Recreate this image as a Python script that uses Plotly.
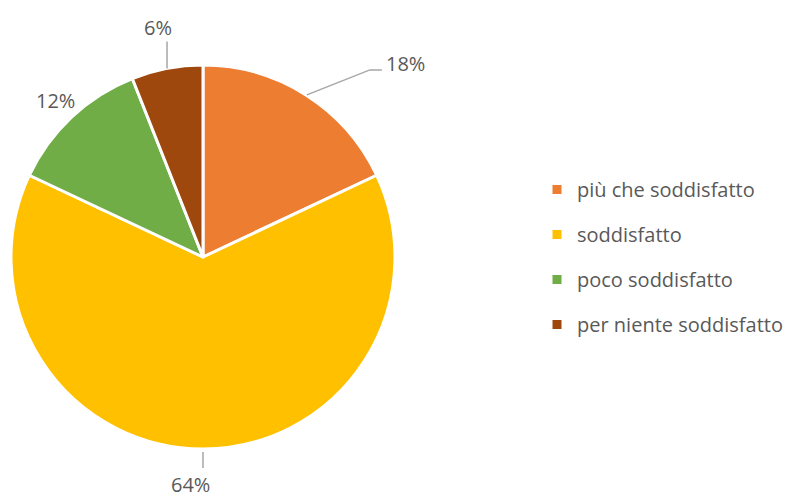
import math
import plotly.graph_objects as go

# ---- data ----
categories = ["più che soddisfatto", "soddisfatto", "poco soddisfatto", "per niente soddisfatto"]
values = [18, 64, 12, 6]
colors = ["#ED7D31", "#FFC000", "#70AD47", "#9E480E"]

# ---- layout / style ----
W, H = 795, 499
CX, CY, R = 203, 257, 192          # pie centre & radius in pixels
FONT = "Open Sans"
TXT = "#595959"
LINE = "#A6A6A6"
# leader line offsets (pixels, relative to slice edge mid-point), and text offsets
leader_paths = [
    [(1, 0), (64, -25), (76, -25)],
    [(0, 3), (0, 19)],
    [],
    [(0, 0), (0, -27)],
]
text_offsets = [(79, -31), (-13, 35), (-16, -17), (-9, -41)]
text_anchor = ["left", "center", "center", "center"]


def px2paper(x, y):
    return x / W, 1 - y / H


fig = go.Figure()
fig.add_trace(go.Pie(
    labels=categories, values=values, sort=False, direction="clockwise", rotation=0,
    marker=dict(colors=colors, line=dict(color="white", width=3)),
    textinfo="none", hoverinfo="label+percent", showlegend=False,
    domain=dict(x=[(CX - R) / W, (CX + R) / W], y=[1 - (CY + R) / H, 1 - (CY - R) / H]),
))

# legend entries via dummy traces so spacing can be controlled
for c, col in zip(categories, colors):
    fig.add_trace(go.Scatter(
        x=[None], y=[None], mode="markers", name=c, legendgroup=c,
        marker=dict(symbol="square", size=9, color=col),
    ))

total = sum(values)
cum = 0
shapes, annotations = [], []
for i, v in enumerate(values):
    mid = (cum + v / 2) / total * 2 * math.pi
    cum += v
    ex = CX + R * math.sin(mid)
    ey = CY - R * math.cos(mid)
    pts = leader_paths[i]
    if pts:
        path = ""
        for k, (dx, dy) in enumerate(pts):
            px, py = px2paper(ex + dx, ey + dy)
            path += ("M" if k == 0 else "L") + f"{px},{py} "
        shapes.append(dict(type="path", path=path.strip(), xref="paper", yref="paper",
                           line=dict(color=LINE, width=1.5)))
    tx, ty = px2paper(ex + text_offsets[i][0], ey + text_offsets[i][1])
    annotations.append(dict(
        x=tx, y=ty, xref="paper", yref="paper", text=f"{round(v / total * 100)}%",
        showarrow=False, xanchor=text_anchor[i], yanchor="middle", borderpad=0,
        font=dict(family=FONT, size=20, color=TXT),
    ))

fig.update_layout(
    width=W, height=H, margin=dict(l=0, r=0, t=0, b=0, autoexpand=False),
    paper_bgcolor="white", plot_bgcolor="white",
    xaxis=dict(visible=False), yaxis=dict(visible=False),
    shapes=shapes, annotations=annotations,
    showlegend=True,
    legend=dict(x=537 / W, y=1 - 170 / H, xanchor="left", yanchor="top",
                font=dict(family=FONT, size=20, color=TXT),
                tracegroupgap=16, itemwidth=30, bgcolor="rgba(0,0,0,0)"),
)

fig.write_html("out.html")
